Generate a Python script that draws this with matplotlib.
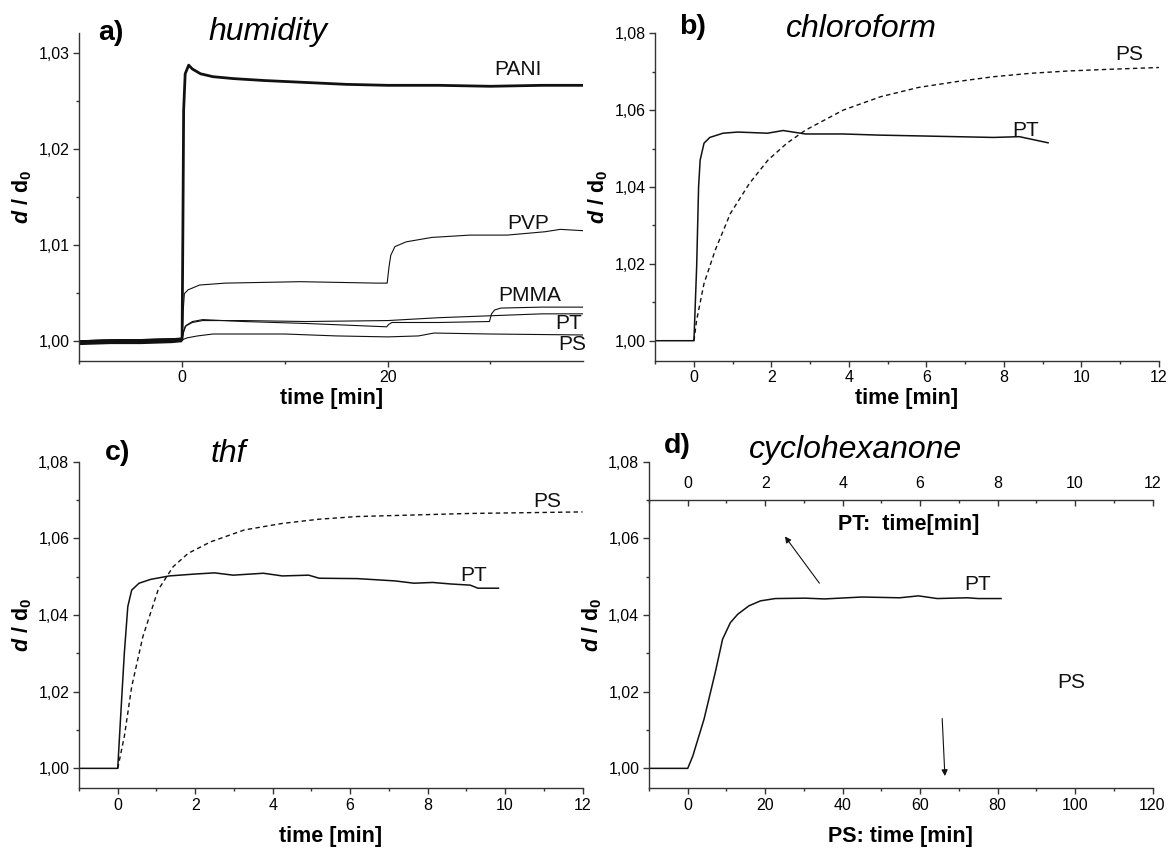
import numpy as np
import matplotlib
matplotlib.use("Agg")
import matplotlib.pyplot as plt
from matplotlib.ticker import MultipleLocator, FuncFormatter

plt.rcParams['font.family'] = ['Liberation Sans', 'DejaVu Sans']
plt.rcParams['mathtext.fontset'] = 'custom'
plt.rcParams['mathtext.rm'] = 'Liberation Sans'
plt.rcParams['mathtext.bf'] = 'Liberation Sans:bold'
plt.rcParams['mathtext.it'] = 'Liberation Sans:italic'
plt.rcParams['mathtext.bfit'] = 'Liberation Sans:bold:italic'

INK = '#111111'

# ---- panel a: humidity ----
pani_t = [-10, -7, -4, -1, 0, 0.08, 0.15, 0.3, 0.64, 1.0, 1.8, 3, 5, 8, 12, 16, 20, 25, 30, 35, 39]
pani_y = [0.9998, 0.9999, 0.9999, 1.0000, 1.0001, 1.012, 1.024, 1.0278, 1.0287, 1.0283, 1.0278,
          1.0275, 1.0273, 1.0271, 1.0269, 1.0267, 1.0266, 1.0266, 1.0265, 1.0266, 1.0266]
pvp_t = [-10, 0, 0.1, 0.22, 0.58, 1.7, 4.2, 11.5, 18.9, 19.95, 20.13, 20.3, 20.7, 21.8, 24.3,
         28, 31.6, 35.3, 36.8, 39]
pvp_y = [1.0, 1.0002, 1.0030, 1.0049, 1.0053, 1.0058, 1.0060, 1.00615, 1.0060, 1.0060, 1.0077,
         1.0089, 1.0098, 1.0103, 1.01076, 1.0110, 1.0110, 1.01135, 1.0116, 1.01146]
pmma_t = [-10, 0, 0.15, 0.4, 1.0, 2, 6, 12, 19.9, 20.1, 20.4, 25, 29.9, 30.1, 30.4, 31, 35, 39]
pmma_y = [1.0, 1.0002, 1.0010, 1.0016, 1.0020, 1.0022, 1.0020, 1.0018, 1.00145, 1.0017, 1.0019,
          1.0019, 1.0020, 1.0028, 1.0032, 1.0034, 1.0035, 1.0035]
pt_a_t = [-10, 0, 0.15, 0.3, 1.0, 2, 6, 12, 20, 25, 30, 35, 39]
pt_a_y = [1.0, 1.0002, 1.0009, 1.0015, 1.0019, 1.0021, 1.0021, 1.0020, 1.0021, 1.0024, 1.0026,
          1.0028, 1.0028]
ps_a_t = [-10, 0, 0.5, 1.5, 3, 10, 15, 20, 23, 24.5, 30, 39]
ps_a_y = [1.0, 1.0001, 1.0003, 1.0005, 1.0007, 1.0007, 1.0005, 1.0004, 1.0005, 1.0008, 1.0007, 1.0006]

# ---- panel b: chloroform ----
pt_b_t = [-1, 0, 0.07, 0.12, 0.16, 0.26, 0.41, 0.75, 1.13, 1.9, 2.3, 2.88, 3.85, 4.8, 5.8, 6.76,
          7.73, 8.4, 9.14]
pt_b_y = [1.0, 1.0, 1.0193, 1.0401, 1.047, 1.0514, 1.0529, 1.054, 1.0543, 1.054, 1.0547, 1.0538,
          1.0538, 1.0535, 1.0533, 1.0531, 1.0529, 1.0531, 1.0515]
ps_b_t = [0, 0.07, 0.26, 0.55, 0.94, 1.43, 1.91, 2.4, 2.88, 3.85, 4.82, 5.79, 6.76, 7.73, 8.7,
          9.67, 10.64, 12]
ps_b_y = [1.0, 1.0054, 1.0149, 1.0236, 1.0331, 1.0409, 1.047, 1.0514, 1.0548, 1.06, 1.0635,
          1.0659, 1.0674, 1.0687, 1.0696, 1.0702, 1.0706, 1.0711]

# ---- panel c: thf ----
pt_c_t = [-1, 0, 0.07, 0.17, 0.26, 0.36, 0.55, 0.85, 1.33, 2.0, 2.5, 2.98, 3.76, 4.25, 4.93,
          5.2, 6.19, 7.16, 7.65, 8.13, 8.6, 9.1, 9.3, 9.83]
pt_c_y = [1.0, 1.0, 1.0126, 1.030, 1.0422, 1.0465, 1.0483, 1.0493, 1.0502, 1.0507, 1.051, 1.0504,
          1.0509, 1.0502, 1.0504, 1.0496, 1.0495, 1.0489, 1.0483, 1.0485, 1.0481, 1.0478, 1.047,
          1.047]
ps_c_t = [0, 0.17, 0.36, 0.65, 1.04, 1.43, 1.82, 2.4, 3.27, 4.25, 5.2, 6.19, 7.65, 9.1, 10.56, 12]
ps_c_y = [1.0, 1.0083, 1.0213, 1.0344, 1.0465, 1.0526, 1.0561, 1.0591, 1.0622, 1.0639, 1.065,
          1.0657, 1.0661, 1.0665, 1.0667, 1.0669]

# ---- panel d: cyclohexanone (PT curve on PT time axis, min) ----
pt_d_t = [-1, 0, 0.13, 0.42, 0.71, 0.9, 1.1, 1.29, 1.58, 1.88, 2.26, 3.04, 3.53, 4.5, 5.47,
          5.96, 6.44, 7.22, 7.5, 8.09]
pt_d_y = [1.0, 1.0, 1.0032, 1.0128, 1.025, 1.0337, 1.038, 1.0402, 1.0424, 1.0437, 1.0443, 1.0444,
          1.0442, 1.0447, 1.0445, 1.045, 1.0443, 1.0445, 1.0443, 1.0443]

comma = FuncFormatter(lambda v, p: f'{v:.2f}'.replace('.', ','))
intfmt = FuncFormatter(lambda v, p: f'{v:.0f}')

W, H = 1170, 849
fig = plt.figure(figsize=(W / 100, H / 100), dpi=100)


def rect(left, right, top, bottom):
    return [left / W, 1 - bottom / H, (right - left) / W, (bottom - top) / H]


ax_a = fig.add_axes(rect(79.3, 583.0, 33.0, 360.7))
ax_b = fig.add_axes(rect(655.2, 1158.9, 33.3, 360.7))
ax_c = fig.add_axes(rect(79.0, 582.5, 461.7, 788.3))
ax_d = fig.add_axes(rect(649.0, 1152.5, 461.7, 788.3))

ylab = r'$\mathbfit{d}$ / d$_{\mathbf{0}}$'


def style(ax, xlim, ylim, xmaj, xmin, ymaj, ymin, xfmt, xlabel, lpad):
    ax.set_xlim(*xlim)
    ax.set_ylim(*ylim)
    for s in ('top', 'right'):
        ax.spines[s].set_visible(False)
    for s in ('left', 'bottom'):
        ax.spines[s].set_linewidth(1.0)
        ax.spines[s].set_color('#333333')
    ax.xaxis.set_major_locator(MultipleLocator(xmaj))
    ax.xaxis.set_minor_locator(MultipleLocator(xmin))
    ax.yaxis.set_major_locator(MultipleLocator(ymaj))
    ax.yaxis.set_minor_locator(MultipleLocator(ymin))
    ax.xaxis.set_major_formatter(xfmt)
    ax.yaxis.set_major_formatter(comma)
    ax.tick_params(which='major', direction='out', length=4, width=1.0, color='#333333',
                   labelsize=11.5, pad=3)
    ax.tick_params(which='minor', direction='out', length=2.5, width=1.0, color='#333333')
    ax.set_xlabel(xlabel, fontsize=15.5, fontweight='bold', labelpad=lpad)
    ax.set_ylabel(ylab, fontsize=15.5, fontweight='bold', labelpad=3)


style(ax_a, (-10, 39), (0.99792, 1.03205), 20, 10, 0.01, 0.005, intfmt, 'time [min]', 1.5)
style(ax_b, (-1, 12), (0.9948, 1.08), 2, 1, 0.02, 0.01, intfmt, 'time [min]', 1.5)
style(ax_c, (-1, 12), (0.9948, 1.08), 2, 1, 0.02, 0.01, intfmt, 'time [min]', 9)
style(ax_d, (-10, 120), (0.9948, 1.08), 20, 10, 0.02, 0.01, intfmt, 'PS: time [min]', 9)

thin = dict(color=INK, lw=0.8)
ax_a.plot(ps_a_t, ps_a_y, **thin)
ax_a.plot(pt_a_t, pt_a_y, **thin)
ax_a.plot(pmma_t, pmma_y, **thin)
ax_a.plot(pvp_t, pvp_y, **thin)
ax_a.plot(pani_t, pani_y, color=INK, lw=2.0)
# noisy common baseline before exposure looks like a thick band
ax_a.plot(pani_t[:5], pani_y[:5], color=INK, lw=3.5, solid_capstyle='butt')

dash = (0, (3.2, 2.4))
ax_b.plot(pt_b_t, pt_b_y, color=INK, lw=1.1)
ax_b.plot(ps_b_t, ps_b_y, color=INK, lw=1.0, ls=dash)
ax_c.plot(pt_c_t, pt_c_y, color=INK, lw=1.1)
ax_c.plot(ps_c_t, ps_c_y, color=INK, lw=1.0, ls=dash)
ax_d.plot(np.array(pt_d_t) * 10, pt_d_y, color=INK, lw=1.1)

# series labels
lab = dict(fontsize=15, ha='center', va='center', color=INK)
ax_a.text(32.7, 1.0282, 'PANI', **lab)
ax_a.text(33.7, 1.01226, 'PVP', **lab)
ax_a.text(33.8, 1.00476, 'PMMA', **lab)
ax_a.text(37.65, 1.00178, 'PT', **lab)
ax_a.text(38.0, 0.99962, 'PS', **lab)
ax_b.text(11.23, 1.0744, 'PS', **lab)
ax_b.text(8.56, 1.0548, 'PT', **lab)
ax_c.text(11.09, 1.0696, 'PS', **lab)
ax_c.text(9.2, 1.0504, 'PT', **lab)
ax_d.text(74.9, 1.048, 'PT', **lab)
ax_d.text(99.0, 1.0224, 'PS', **lab)

# panel letters and titles
for ax, letter, lx, ly, title, tx, ty in [
        (ax_a, 'a)', 0.038, 0.978, 'humidity', 0.256, 0.978),
        (ax_b, 'b)', 0.048, 0.998, 'chloroform', 0.26, 0.99),
        (ax_c, 'c)', 0.052, 1.006, 'thf', 0.261, 1.0),
        (ax_d, 'd)', 0.029, 1.026, 'cyclohexanone', 0.199, 1.011)]:
    ax.text(lx, ly, letter, transform=ax.transAxes, fontsize=20.5, fontweight='bold',
            ha='left', va='baseline')
    ax.text(tx, ty, title, transform=ax.transAxes, fontsize=23, fontstyle='italic',
            ha='left', va='baseline')

# panel d: PT time axis drawn inside
top_pos = (1.07 - 0.9948) / (1.08 - 0.9948)
sec = ax_d.secondary_xaxis(top_pos, functions=(lambda x: x / 10, lambda x: x * 10))
sec.xaxis.set_ticks_position('top')
sec.xaxis.set_major_locator(MultipleLocator(2))
sec.xaxis.set_minor_locator(MultipleLocator(1))
sec.xaxis.set_major_formatter(intfmt)
sec.tick_params(which='major', direction='in', length=4, width=1.0, color='#333333',
                labelsize=11.5, pad=6.5)
sec.tick_params(which='minor', direction='in', length=2.5, width=1.0, color='#333333')
for s in sec.spines.values():
    s.set_linewidth(1.0)
    s.set_color('#333333')
ax_d.text(57.0, 1.0637, 'PT:  time[min]', fontsize=15.5, fontweight='bold', ha='center',
          va='center')

arrow = dict(arrowstyle='-|>', color=INK, lw=0.8, mutation_scale=9, shrinkA=0, shrinkB=0)
ax_d.annotate('', xy=(25.1, 1.0605), xytext=(34.0, 1.0483), arrowprops=arrow)
ax_d.annotate('', xy=(66.4, 0.998), xytext=(65.7, 1.013), arrowprops=arrow)

fig.savefig('out.png', dpi=100)
